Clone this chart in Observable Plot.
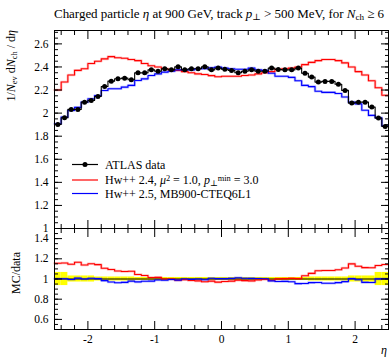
<!DOCTYPE html>
<html><head><meta charset="utf-8">
<script src="https://cdn.jsdelivr.net/npm/d3@7"></script>
<script src="https://cdn.jsdelivr.net/npm/@observablehq/plot@0.6"></script>
<style>
body{margin:0;background:#fff;}
#wrap{position:relative;width:389px;height:358px;overflow:hidden;}
#wrap svg{position:absolute;left:0;overflow:visible;}
</style></head><body><div id="wrap"></div>
<script>
const FONT = "'Liberation Serif', 'DejaVu Serif', serif";
const binEdges = [-2.5,-2.4,-2.3,-2.2,-2.1,-2.0,-1.9,-1.8,-1.7,-1.6,-1.5,-1.4,-1.3,-1.2,-1.1,-1.0,-0.9,-0.8,-0.7,-0.6,-0.5,-0.4,-0.3,-0.2,-0.1,0,0.1,0.2,0.3,0.4,0.5,0.6,0.7,0.8,0.9,1.0,1.1,1.2,1.3,1.4,1.5,1.6,1.7,1.8,1.9,2.0,2.1,2.2,2.3,2.4,2.5];
const atlas = [1.902,1.960,2.032,2.032,2.095,2.110,2.144,2.231,2.277,2.298,2.303,2.289,2.349,2.349,2.375,2.363,2.384,2.375,2.401,2.375,2.384,2.384,2.401,2.375,2.390,
  2.380,2.370,2.350,2.363,2.375,2.363,2.363,2.390,2.378,2.375,2.375,2.390,2.346,2.312,2.269,2.275,2.275,2.250,2.197,2.087,2.095,2.095,2.052,1.957,1.885];
const atlasErrRel = [0.065,0.065,0.03,0.03,0.03,0.03,0.02,0.02,0.02,0.02,0.02,0.02,
  0.015,0.015,0.015,0.015,0.015,0.015,0.015,0.015,0.015,0.015,0.015,0.015,0.015,
  0.015,0.015,0.015,0.015,0.015,0.015,0.015,0.015,0.015,0.015,0.015,0.015,0.015,
  0.02,0.02,0.02,0.02,0.02,0.02,0.03,0.03,0.03,0.03,0.065,0.065];
const hw24 = [2.20,2.27,2.33,2.37,2.385,2.43,2.45,2.47,2.49,2.48,2.475,2.465,2.455,2.43,2.41,2.40,2.385,2.375,2.37,2.36,2.35,2.34,2.335,2.325,2.315,
  2.32,2.32,2.32,2.326,2.33,2.34,2.35,2.36,2.38,2.385,2.39,2.40,2.42,2.44,2.455,2.465,2.465,2.455,2.435,2.40,2.36,2.33,2.28,2.22,2.155];
const hw25 = [1.908,1.965,2.023,2.05,2.095,2.125,2.153,2.196,2.211,2.211,2.225,2.24,2.283,2.297,2.326,2.34,2.355,2.363,2.375,2.375,2.375,2.384,2.384,2.393,2.40,
  2.39,2.385,2.38,2.38,2.39,2.375,2.37,2.345,2.32,2.32,2.31,2.28,2.24,2.23,2.19,2.18,2.18,2.17,2.14,2.095,2.08,2.025,1.98,1.96,1.89];
const mainTicks = [1,1.2,1.4,1.6,1.8,2,2.2,2.4,2.6];
const ratioTicks = [0.6,0.8,1,1.2,1.4];
const xTicks = [-2,-1,0,1,2];
const xMinorTicks = [-2.4,-2.2,-1.8,-1.6,-1.4,-1.2,-0.8,-0.6,-0.4,-0.2,0.2,0.4,0.6,0.8,1.2,1.4,1.6,1.8,2.2,2.4];
const seriesNames = ["ATLAS data", "Hw++ 2.4", "Hw++ 2.5, MB900-CTEQ6L1"];
const seriesColors = ["#000000", "#ff0000", "#0000ff"];

const W = 389, ML = 54, MR = 1;
const steps = vals => vals.flatMap((v, i) => [{x: binEdges[i], y: v}, {x: binEdges[i + 1], y: v}]);
const bins = atlas.map((v, i) => ({lo: binEdges[i], hi: binEdges[i + 1], c: (binEdges[i] + binEdges[i + 1]) / 2, v, e: atlasErrRel[i]}));
const minorY = (lo, hi) => d3.range(Math.round(lo / 0.05), Math.round(hi / 0.05) + 1).map(k => +(k * 0.05).toFixed(2)).filter(v => v >= lo && v <= hi);

function frameTicks(yMajor, yMinor, labels) {
  const none = () => "";
  const m = [
    Plot.axisY(yMinor, {anchor: "left", tickSize: -4, tickFormat: none, label: null}),
    Plot.axisY(yMajor, {anchor: "left", tickSize: -8, tickFormat: none, label: null}),
    Plot.axisY(yMinor, {anchor: "right", tickSize: -4, tickFormat: none, label: null}),
    Plot.axisY(yMajor, {anchor: "right", tickSize: -8, tickFormat: none, label: null}),
    Plot.axisX(xMinorTicks, {anchor: "top", tickSize: -4, tickFormat: none, label: null}),
    Plot.axisX(xTicks, {anchor: "top", tickSize: -8, tickFormat: none, label: null}),
    Plot.axisX(xMinorTicks, {anchor: "bottom", tickSize: -4, tickFormat: none, label: null}),
    Plot.axisX(xTicks, {anchor: "bottom", tickSize: -8, tickFormat: none, label: null}),
    Plot.axisY(yMajor, {anchor: "left", tickSize: 0, tickPadding: 6, tickFormat: d => String(d), label: null, fontSize: 11.5})
  ];
  if (labels) m.push(Plot.axisX(xTicks, {anchor: "bottom", tickSize: 0, tickPadding: 5, tickFormat: d => String(d), label: null, fontSize: 11.5}));
  return m;
}

const style = {fontFamily: FONT, fontSize: "11.5px", background: "transparent", overflow: "visible", color: "#000"};

const main = Plot.plot({
  width: W, height: 228, marginLeft: ML, marginRight: MR, marginTop: 30, marginBottom: 0,
  x: {domain: [-2.5, 2.5]}, y: {domain: [1.0, 2.716]},
  style,
  marks: [
    Plot.line(steps(hw24), {x: "x", y: "y", stroke: seriesColors[1], strokeWidth: 2.6, strokeOpacity: 0.25}),
    Plot.line(steps(hw25), {x: "x", y: "y", stroke: seriesColors[2], strokeWidth: 2.6, strokeOpacity: 0.25}),
    Plot.line(steps(hw24), {x: "x", y: "y", stroke: seriesColors[1], strokeWidth: 1.1}),
    Plot.line(steps(hw25), {x: "x", y: "y", stroke: seriesColors[2], strokeWidth: 1.1}),
    Plot.line(steps(atlas), {x: "x", y: "y", stroke: seriesColors[0], strokeWidth: 1.1}),
    Plot.dot(bins, {x: "c", y: "v", r: 2.5, fill: "#000", stroke: "none"}),
    ...frameTicks(mainTicks, minorY(1.0, 2.7), false),
    Plot.frame({stroke: "#000", strokeWidth: 1})
  ]
});

const ratioOf = arr => steps(arr.map((v, i) => v / atlas[i]));
const ratio = Plot.plot({
  width: W, height: 130, marginLeft: ML, marginRight: MR, marginTop: 0, marginBottom: 29,
  x: {domain: [-2.5, 2.5]}, y: {domain: [0.5, 1.5]},
  style,
  marks: [
    Plot.rect(bins, {x1: "lo", x2: "hi", y1: d => 1 - d.e, y2: d => 1 + d.e, fill: "#ffff00"}),
    Plot.line(ratioOf(atlas), {x: "x", y: "y", stroke: seriesColors[0], strokeWidth: 1.1}),
    Plot.line(ratioOf(hw24), {x: "x", y: "y", stroke: seriesColors[1], strokeWidth: 2.6, strokeOpacity: 0.25}),
    Plot.line(ratioOf(hw25), {x: "x", y: "y", stroke: seriesColors[2], strokeWidth: 2.6, strokeOpacity: 0.25}),
    Plot.line(ratioOf(hw24), {x: "x", y: "y", stroke: seriesColors[1], strokeWidth: 1.1}),
    Plot.line(ratioOf(hw25), {x: "x", y: "y", stroke: seriesColors[2], strokeWidth: 1.1}),
    ...frameTicks(ratioTicks, minorY(0.5, 1.5), true),
    Plot.frame({stroke: "#000", strokeWidth: 1})
  ]
});

const wrap = document.getElementById("wrap");
main.style.top = "0px";
ratio.style.top = "228px";
wrap.appendChild(main);
wrap.appendChild(ratio);

// overlay: title, axis labels, legend
const ov = d3.select(wrap).append("svg").attr("width", W).attr("height", 358).style("top", "0px")
  .style("font-family", FONT).attr("fill", "#000");

function rich(sel, parts, size) {
  for (const p of parts) {
    const t = sel.append("tspan").text(p.t);
    if (p.i) t.attr("font-style", "italic");
    if (p.sub) t.attr("font-size", size * 0.7).attr("baseline-shift", "-25%");
    if (p.sup) t.attr("font-size", size * 0.7).attr("baseline-shift", "40%");
  }
  return sel;
}

rich(ov.append("text").attr("x", 54).attr("y", 18).attr("font-size", 13).attr("textLength", 330).attr("lengthAdjust", "spacing"), [
  {t: "Charged particle "}, {t: "η", i: 1}, {t: " at 900 GeV, track "}, {t: "p", i: 1}, {t: "⊥", sub: 1},
  {t: " > 500 MeV, for "}, {t: "N", i: 1}, {t: "ch", sub: 1}, {t: " ≥ 6"}
], 13);

rich(ov.append("text").attr("transform", "translate(15,30) rotate(-90)").attr("text-anchor", "end").attr("font-size", 12), [
  {t: "1/"}, {t: "N", i: 1}, {t: "ev", sub: 1}, {t: " d"}, {t: "N", i: 1}, {t: "ch", sub: 1}, {t: " / d"}, {t: "η", i: 1}
], 12);

rich(ov.append("text").attr("transform", "translate(20,252) rotate(-90)").attr("text-anchor", "end").attr("font-size", 12), [
  {t: "MC/data"}
], 12);

ov.append("text").attr("x", 384).attr("y", 354).attr("font-size", 12).attr("font-style", "italic").attr("text-anchor", "middle").text("η");

// legend
const legY = [164.5, 180, 193.5];
const lg = ov.append("g");
legY.forEach((y, i) => {
  lg.append("line").attr("x1", 72).attr("x2", 98).attr("y1", y).attr("y2", y).attr("stroke", seriesColors[i]).attr("stroke-width", 1.2);
});
lg.append("circle").attr("cx", 85).attr("cy", legY[0]).attr("r", 2.5).attr("fill", "#000");
lg.append("text").attr("x", 105).attr("y", legY[0] + 4).attr("font-size", 12).text(seriesNames[0]);
rich(lg.append("text").attr("x", 105).attr("y", legY[1] + 4).attr("font-size", 12), [
  {t: seriesNames[1] + ", "}, {t: "μ", i: 1}, {t: "2", sup: 1}, {t: " = 1.0, "}, {t: "p", i: 1}, {t: "⊥", sub: 1}, {t: "min", sup: 1}, {t: " = 3.0"}
], 12);
lg.append("text").attr("x", 105).attr("y", legY[2] + 4).attr("font-size", 12).text(seriesNames[2]);
</script></body></html>
